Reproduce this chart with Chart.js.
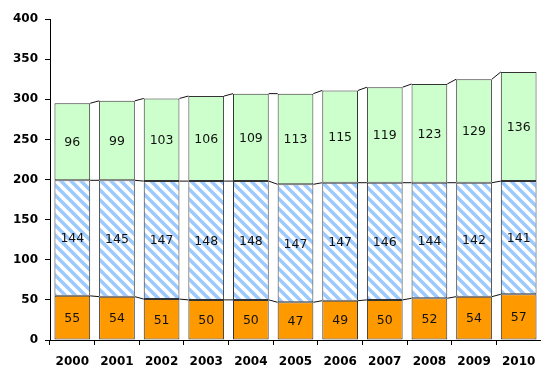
<!DOCTYPE html>
<html>
<head>
<meta charset="utf-8">
<script src="https://cdn.jsdelivr.net/npm/chart.js@4/dist/chart.umd.min.js"></script>
<style>
  html, body { margin: 0; padding: 0; background: #fff; }
  #wrap { width: 541px; height: 367px; }
</style>
</head>
<body>
<div id="wrap"><canvas id="c" width="541" height="367"></canvas></div>
<script>
const years = ['2000','2001','2002','2003','2004','2005','2006','2007','2008','2009','2010'];
const bottomValues = [55, 54, 51, 50, 50, 47, 49, 50, 52, 54, 57];
const middleValues = [144, 145, 147, 148, 148, 147, 147, 146, 144, 142, 141];
const topValues = [96, 99, 103, 106, 109, 113, 115, 119, 123, 129, 136];
const yTicks = [0, 50, 100, 150, 200, 250, 300, 350, 400];

const axisFont = { family: '"DejaVu Sans", Verdana, sans-serif', size: 12, weight: 'bold' };

// diagonal stripe fill for the middle series
function stripePattern() {
  const s = 10;
  const cv = document.createElement('canvas');
  cv.width = s; cv.height = s;
  const g = cv.getContext('2d');
  g.fillStyle = '#ffffff';
  g.fillRect(0, 0, s, s);
  g.strokeStyle = '#9ccaff';
  g.lineWidth = 3.5;
  for (const off of [-s, 0, s]) {
    g.beginPath();
    g.moveTo(off - 1, -1);
    g.lineTo(off + s + 1, s + 1);
    g.stroke();
  }
  return g.createPattern(cv, 'repeat');
}

// value labels in each segment and series lines between neighbouring bars
const segmentDecor = {
  id: 'segmentDecor',
  afterDatasetsDraw(chart) {
    const ctx = chart.ctx;
    ctx.save();
    chart.data.datasets.forEach((ds, di) => {
      const meta = chart.getDatasetMeta(di);
      const bars = meta.data;
      ctx.strokeStyle = '#111';
      ctx.lineWidth = 1;
      for (let i = 0; i < bars.length - 1; i++) {
        const a = bars[i], b = bars[i + 1];
        ctx.beginPath();
        ctx.moveTo(a.x + a.width / 2, a.y);
        ctx.lineTo(b.x - b.width / 2, b.y);
        ctx.stroke();
      }
      ctx.fillStyle = '#111';
      ctx.font = '12.5px "DejaVu Sans", sans-serif';
      ctx.textAlign = 'center';
      ctx.textBaseline = 'middle';
      bars.forEach((bar, i) => {
        ctx.fillText(String(ds.data[i]), bar.x, (bar.y + bar.base) / 2 + 1);
      });
    });
    ctx.restore();
  }
};

new Chart(document.getElementById('c'), {
  type: 'bar',
  data: {
    labels: years,
    datasets: [
      { data: bottomValues, backgroundColor: '#ff9900', borderColor: '#333', borderWidth: 1, borderSkipped: false },
      { data: middleValues, backgroundColor: stripePattern(), borderColor: '#333', borderWidth: 1, borderSkipped: false },
      { data: topValues, backgroundColor: '#ccffcc', borderColor: '#333', borderWidth: 1, borderSkipped: false }
    ]
  },
  options: {
    responsive: false,
    animation: false,
    layout: { padding: { top: 19, right: 0, bottom: 0, left: 0 } },
    datasets: { bar: { categoryPercentage: 1, barPercentage: 0.8 } },
    plugins: { legend: { display: false }, tooltip: { enabled: false } },
    scales: {
      x: {
        stacked: true,
        afterFit(scale) {
          scale.height = 27;
          scale.paddingLeft = 0;
          scale.paddingRight = 0;
        },
        grid: { display: true, drawOnChartArea: false, drawTicks: true, tickLength: 5, color: '#000', offset: true },
        border: { display: true, color: '#000', width: 1 },
        ticks: { color: '#000', font: axisFont, padding: 10, maxRotation: 0 }
      },
      y: {
        stacked: true,
        min: 0, max: 400,
        afterBuildTicks(scale) { scale.ticks = yTicks.map(v => ({ value: v })); },
        afterFit(scale) { scale.width = 50; },
        grid: { display: true, drawOnChartArea: false, drawTicks: true, tickLength: 5, color: '#000' },
        border: { display: true, color: '#000', width: 1 },
        ticks: { color: '#000', font: axisFont, padding: 7 }
      }
    }
  },
  plugins: [segmentDecor]
});
</script>
</body>
</html>
